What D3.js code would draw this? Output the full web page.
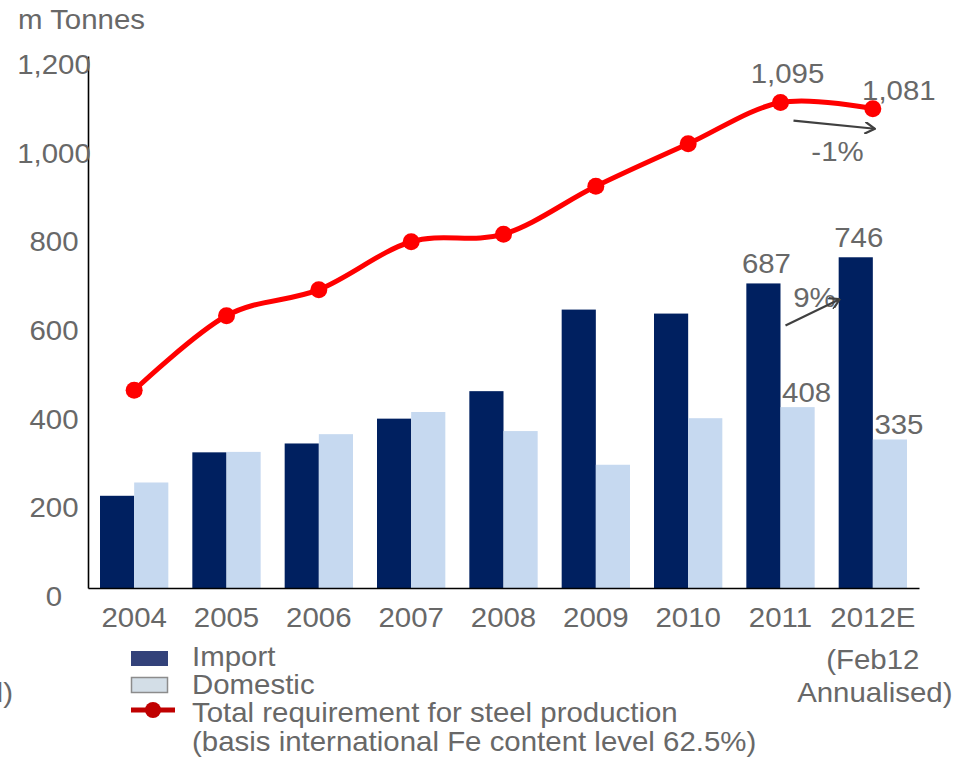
<!DOCTYPE html>
<html>
<head>
<meta charset="utf-8">
<script src="https://cdn.jsdelivr.net/npm/d3@7"></script>
<style>
  html, body { margin: 0; padding: 0; background: #fff; }
  svg { display: block; }
  text { font-family: "Liberation Sans", Arial, sans-serif; fill: #686868; }
</style>
</head>
<body>
<svg id="chart" width="959" height="762"></svg>
<script>
// Iron ore requirement for steel production, million tonnes
const categories = ["2004", "2005", "2006", "2007", "2008", "2009", "2010", "2011", "2012E"];
const importValues = [208, 306, 326, 382, 444, 628, 619, 687, 746];
const domesticValues = [238, 307, 347, 397, 354, 278, 383, 408, 335];
const totalValues = [446, 614, 673, 781, 798, 906, 1002, 1095, 1081];
const yTickValues = [0, 200, 400, 600, 800, 1000, 1200];
const seriesNames = ["Import", "Domestic"];
const legendLabels = ["Import", "Domestic", "Total requirement for steel production",
                      "(basis international Fe content level 62.5%)"];

const FONT = 27, STRETCH = 1.09;
const svg = d3.select("#chart");

const x0 = d3.scaleBand().domain(categories).range([88, 919])
  .paddingInner(0.26).paddingOuter(0.13);
const x1 = d3.scaleBand().domain(seriesNames).range([0, x0.bandwidth()]);
const y = d3.scaleLinear().domain([0, 1200]).range([588, 56]);
const colors = { Import: "#002060", Domestic: "#c6d9f0" };
const xc = c => x0(c) + x0.bandwidth() / 2;

// text helper: slightly widened Arial-style lettering
function label(g, str, x, yy, anchor, size) {
  return g.append("text")
    .attr("transform", `translate(${x},${yy}) scale(${STRETCH},1)`)
    .attr("text-anchor", anchor || "middle")
    .style("font-size", (size || FONT) + "px")
    .text(str);
}

// bars
const rows = categories.map((c, i) => ({ cat: c, Import: importValues[i], Domestic: domesticValues[i] }));
const groups = svg.append("g").selectAll("g").data(rows).join("g")
  .attr("transform", d => `translate(${x0(d.cat)},0)`);
groups.selectAll("rect")
  .data(d => seriesNames.map(k => ({ key: k, value: d[k] })))
  .join("rect")
  .attr("x", d => x1(d.key))
  .attr("width", x1.bandwidth())
  .attr("y", d => y(d.value))
  .attr("height", d => y(0) - y(d.value))
  .attr("fill", d => colors[d.key]);

// axes
const yAxis = svg.append("g").attr("transform", "translate(88,0)")
  .call(d3.axisLeft(y).tickValues(yTickValues).tickSize(0).tickSizeOuter(0).tickFormat(""));
const xAxis = svg.append("g").attr("transform", `translate(0,${y(0)})`)
  .call(d3.axisBottom(x0).tickSize(0).tickSizeOuter(0).tickFormat(""));
[yAxis, xAxis].forEach(a => a.select(".domain").attr("stroke", "#000").attr("stroke-width", 1.6));

const labels = svg.append("g");
const fmt = d3.format(",");
yTickValues.forEach(v => label(labels, fmt(v), 54, y(v) + 18, "middle"));
categories.forEach(c => label(labels, c, xc(c), y(0) + 39, "middle"));
label(labels, "(Feb12", xc("2012E"), 669, "middle");
label(labels, "Annualised)", xc("2012E") + 2, 702, "middle");
label(labels, "d)", 13, 702, "end");
label(labels, "m Tonnes", 18, 29, "start");

// total requirement line
const line = d3.line()
  .x((d, i) => xc(categories[i]))
  .y(d => y(d))
  .curve(d3.curveCardinal.tension(0));
svg.append("path").datum(totalValues)
  .attr("d", line)
  .attr("fill", "none")
  .attr("stroke", "#ff0000")
  .attr("stroke-width", 5);
svg.append("g").selectAll("circle").data(totalValues).join("circle")
  .attr("cx", (d, i) => xc(categories[i]))
  .attr("cy", d => y(d))
  .attr("r", 8.5)
  .attr("fill", "#ff0000");

// value labels for the last two years
const i11 = 7, i12 = 8;
label(labels, fmt(totalValues[i11]), xc(categories[i11]) + 7, y(totalValues[i11]) - 20);
label(labels, fmt(totalValues[i12]), xc(categories[i12]) + 26, y(totalValues[i12]) - 9);
[i11, i12].forEach(i => {
  const c = categories[i];
  label(labels, fmt(importValues[i]), x0(c) + x1("Import") + x1.bandwidth() / 2 + 3, y(importValues[i]) - 10);
  label(labels, fmt(domesticValues[i]), x0(c) + x1("Domestic") + x1.bandwidth() / 2 + 9, y(domesticValues[i]) - 5);
});

// growth arrows
svg.append("defs").append("marker")
  .attr("id", "chev").attr("viewBox", "0 0 12 12").attr("refX", 11).attr("refY", 6)
  .attr("markerWidth", 12).attr("markerHeight", 12).attr("markerUnits", "userSpaceOnUse")
  .attr("orient", "auto")
  .append("path").attr("d", "M1,0 L11,6 L1,12").attr("fill", "none")
  .attr("stroke", "#404040").attr("stroke-width", 2.2);
const arrows = [
  { x1: xc(categories[i11]) + 13, y1: y(totalValues[i11]) + 18,
    x2: xc(categories[i12]) + 2, y2: y(totalValues[i12]) + 20,
    text: "-1%", tx: xc(categories[i11]) + 57, ty: y(totalValues[i11]) + 58 },
  { x1: x0(categories[i11]) + x1("Domestic") + 5, y1: y(importValues[i11]) + 42,
    x2: x0(categories[i12]) + 1, y2: y(importValues[i12]) + 42,
    text: "9%", tx: x0(categories[i11]) + x1("Domestic") + 34, ty: y(importValues[i11]) + 24 }
];
arrows.forEach(a => {
  svg.append("line").attr("x1", a.x1).attr("y1", a.y1).attr("x2", a.x2).attr("y2", a.y2)
    .attr("stroke", "#404040").attr("stroke-width", 2.2).attr("marker-end", "url(#chev)");
  label(labels, a.text, a.tx, a.ty);
});

// legend
const lg = svg.append("g");
lg.append("rect").attr("x", 131).attr("y", 651).attr("width", 37).attr("height", 15).attr("fill", "#33427a");
lg.append("rect").attr("x", 131.5).attr("y", 677.5).attr("width", 36).attr("height", 15)
  .attr("fill", "#d3dee7").attr("stroke", "#8c8c8c").attr("stroke-width", 1.5);
lg.append("line").attr("x1", 131).attr("x2", 175).attr("y1", 710).attr("y2", 710)
  .attr("stroke", "#c00000").attr("stroke-width", 5);
lg.append("circle").attr("cx", 153).attr("cy", 710).attr("r", 8).attr("fill", "#c00000");
[666, 694, 722, 751].forEach((by, i) => label(lg, legendLabels[i], 192, by, "start"));
</script>
</body>
</html>
